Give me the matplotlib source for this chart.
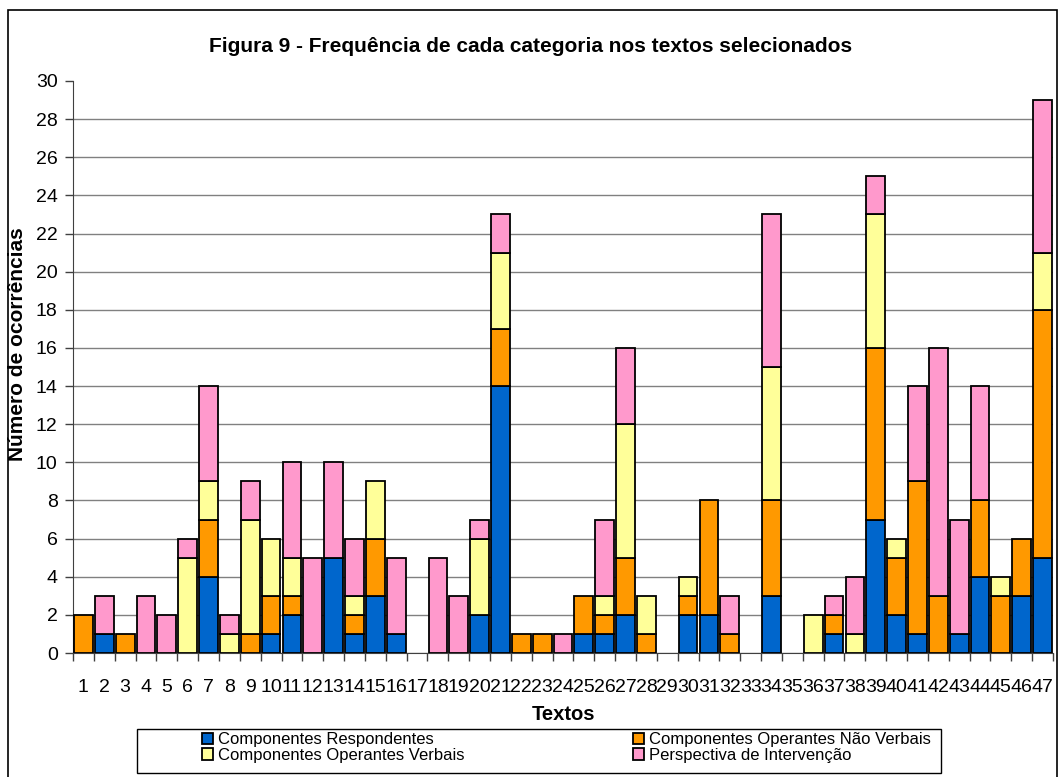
import numpy as np
import matplotlib
matplotlib.use('Agg')
import matplotlib.pyplot as plt
from matplotlib.patches import Rectangle

plt.rcParams['font.family'] = ['Liberation Sans', 'DejaVu Sans']

# dados (textos 1..47)
textos = [str(i) for i in range(1, 48)]
respondentes = [0, 1, 0, 0, 0, 0, 4, 0, 0, 1, 2, 0, 5, 1, 3, 1, 0, 0, 0, 2, 14, 0, 0, 0,
                1, 1, 2, 0, 0, 2, 2, 0, 0, 3, 0, 0, 1, 0, 7, 2, 1, 0, 1, 4, 0, 3, 5]
nao_verbais = [2, 0, 1, 0, 0, 0, 3, 0, 1, 2, 1, 0, 0, 1, 3, 0, 0, 0, 0, 0, 3, 1, 1, 0,
               2, 1, 3, 1, 0, 1, 6, 1, 0, 5, 0, 0, 1, 0, 9, 3, 8, 3, 0, 4, 3, 3, 13]
verbais = [0, 0, 0, 0, 0, 5, 2, 1, 6, 3, 2, 0, 0, 1, 3, 0, 0, 0, 0, 4, 4, 0, 0, 0,
           0, 1, 7, 2, 0, 1, 0, 0, 0, 7, 0, 2, 0, 1, 7, 1, 0, 0, 0, 0, 1, 0, 3]
intervencao = [0, 2, 0, 3, 2, 1, 5, 1, 2, 0, 5, 5, 5, 3, 0, 4, 0, 5, 3, 1, 2, 0, 0, 1,
               0, 4, 4, 0, 0, 0, 0, 2, 0, 8, 0, 0, 1, 3, 2, 0, 5, 13, 6, 6, 0, 0, 8]

series = [
    ('Componentes Respondentes', respondentes, '#0066CC'),
    ('Componentes Operantes Não Verbais', nao_verbais, '#FF9900'),
    ('Componentes Operantes Verbais', verbais, '#FFFF99'),
    ('Perspectiva de Intervenção', intervencao, '#FF99CC'),
]

W, H = 1061, 777
fig = plt.figure(figsize=(W / 100, H / 100), dpi=100)
# moldura do gráfico (Excel)
fig.patches.append(Rectangle((8 / W, -0.01), 1049 / W, 1 - 10 / H + 0.01,
                             transform=fig.transFigure, fill=False,
                             edgecolor='black', linewidth=1.2))

ax = fig.add_axes([73 / W, 1 - 653 / H, 980 / W, 572 / H])
x = np.arange(len(textos))
bottom = np.zeros(len(textos))
handles = {}
for nome, vals, cor in series:
    vals = np.array(vals, dtype=float)
    m = vals > 0  # Excel não desenha segmentos nulos
    h = ax.bar(x[m], vals[m], width=0.9, bottom=bottom[m], color=cor, edgecolor='black',
               linewidth=1.3, label=nome, zorder=3)
    handles[nome] = h
    bottom += vals

ax.set_xlim(-0.5, len(textos) - 0.5)
ax.set_ylim(0, 30)
ax.set_yticks(range(0, 31, 2))
ax.tick_params(axis='y', labelsize=14, length=6, pad=5, width=1, color='#404040')
ax.yaxis.grid(True, color='#808080', linewidth=1, zorder=0)
ax.yaxis.get_gridlines()[-1].set_visible(False)

# marcas entre categorias, rótulos centrados nas barras
ax.set_xticks(np.arange(-0.5, len(textos), 1))
ax.set_xticklabels([])
ax.set_xticks(x, minor=True)
ax.set_xticklabels(textos, minor=True, fontsize=14)
ax.tick_params(axis='x', which='major', length=6, width=1, color='#404040')
ax.tick_params(axis='x', which='minor', length=0, pad=19)

for s in ['top', 'right']:
    ax.spines[s].set_visible(False)
for s in ['left', 'bottom']:
    ax.spines[s].set_color('#404040')

ax.set_ylabel('Número de ocorrências', fontsize=15, fontweight='bold')
ax.yaxis.set_label_coords(-0.047, 0.54)
ax.set_xlabel('Textos', fontsize=14.5, fontweight='bold')
ax.xaxis.set_label_coords(0.5, -0.091)
fig.text(0.5, 1 - 46 / H, 'Figura 9 - Frequência de cada categoria nos textos selecionados',
         ha='center', va='center', fontsize=15, fontweight='bold')

# legenda: preenchida por linhas como no Excel
ordem = [series[0][0], series[2][0], series[1][0], series[3][0]]
fs_leg = 12
px = fs_leg * 100 / 72


def make_legend(colsp):
    return fig.legend([handles[n] for n in ordem], ordem, loc='upper left',
                      bbox_to_anchor=(202 / W, 1 - 732 / H), ncol=2, fontsize=fs_leg,
                      frameon=False, handlelength=0.65, handleheight=0.65,
                      handletextpad=0.3, borderpad=0, labelspacing=0.05,
                      borderaxespad=0, columnspacing=colsp)


leg = make_legend(10)
fig.canvas.draw()
r = fig.canvas.get_renderer()
t0 = leg.get_texts()[0].get_window_extent(r)
t1 = leg.get_texts()[1].get_window_extent(r)
col1_end = max(t0.x1, t1.x1)
leg.remove()
colsp = (633 - col1_end) / px
leg = make_legend(colsp)
fig.canvas.draw()
ext = max(t.get_window_extent(r).x1 for t in leg.get_texts())
fig.patches.append(Rectangle((137 / W, 1 - 773 / H), (ext + 10 - 137) / W, 44 / H,
                             transform=fig.transFigure, fill=False,
                             edgecolor='black', linewidth=1))

fig.savefig('out.png', dpi=100)
